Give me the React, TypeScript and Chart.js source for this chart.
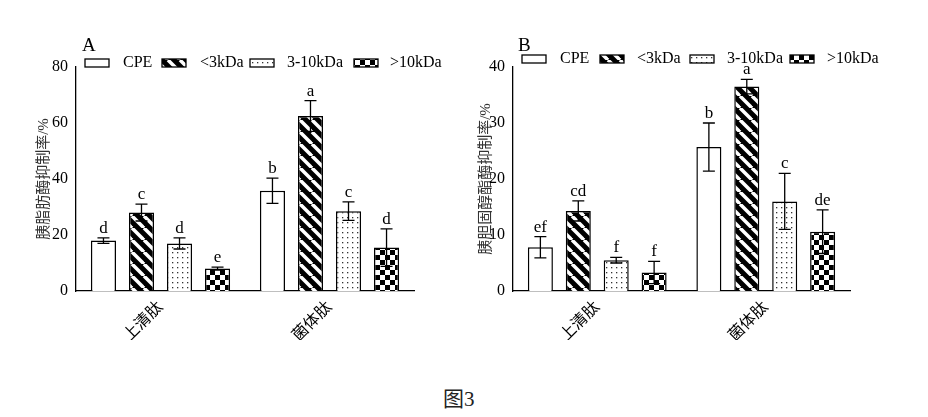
import React, { useEffect, useRef } from "react";
import { Chart, registerables } from "chart.js";
Chart.register(...registerables);

const categories = ["上清肽", "菌体肽"];
const seriesNames = ["CPE", "<3kDa", "3-10kDa", ">10kDa"];
const aValues = [[18, 35.8], [28, 62.5], [17, 28.5], [8, 15.5]];
const aErrors = [[1, 4.5], [3, 5.5], [2, 3.3], [0.5, 6.7]];
const aLetters = [["d", "b"], ["c", "a"], ["d", "c"], ["e", "d"]];
const bValues = [[7.8, 25.7], [14.3, 36.5], [5.5, 16], [3.3, 10.6]];
const bErrors = [[1.9, 4.3], [1.8, 1.3], [0.5, 5], [2, 3.9]];
const bLetters = [["ef", "b"], ["cd", "a"], ["f", "c"], ["f", "de"]];

const FONT = "'Liberation Serif', 'Times New Roman', 'Noto Sans CJK SC', serif";

function makePattern(kind: number): CanvasPattern | string {
  const c = document.createElement("canvas");
  const ctx = c.getContext("2d")!;
  if (kind === 0) return "#ffffff";
  if (kind === 1) {
    c.width = 12; c.height = 12;
    ctx.fillStyle = "#000"; ctx.fillRect(0, 0, 12, 12);
    ctx.strokeStyle = "#fff"; ctx.lineWidth = 3.5;
    for (let k = -12; k <= 24; k += 12) {
      ctx.beginPath(); ctx.moveTo(k, 0); ctx.lineTo(k + 12, 12); ctx.stroke();
    }
  } else if (kind === 2) {
    c.width = 5; c.height = 5;
    ctx.fillStyle = "#fff"; ctx.fillRect(0, 0, 5, 5);
    ctx.fillStyle = "#333"; ctx.fillRect(2, 2, 1.3, 1.3);
  } else {
    c.width = 10; c.height = 10;
    ctx.fillStyle = "#fff"; ctx.fillRect(0, 0, 10, 10);
    ctx.fillStyle = "#000"; ctx.fillRect(0, 0, 5, 5); ctx.fillRect(5, 5, 5, 5);
  }
  return ctx.createPattern(c, "repeat")!;
}

type PanelProps = {
  values: number[][]; errors: number[][]; letters: string[][];
  max: number; step: number; title: string; panel: string;
  leftPad: number; yWidth: number; rightPad: number; legendX: number[][]; legendY: number; panelX: number;
};

function Panel(p: PanelProps) {
  const ref = useRef<HTMLCanvasElement>(null);
  useEffect(() => {
    const patterns = [0, 1, 2, 3].map(makePattern);
    const overlay = {
      id: "overlay",
      afterDatasetsDraw(chart: any) {
        const ctx = chart.ctx;
        const y = chart.scales.y;
        ctx.save();
        p.values.forEach((vals, di) => {
          const meta = chart.getDatasetMeta(di);
          vals.forEach((v, i) => {
            const x = meta.data[i].x;
            const top = y.getPixelForValue(v + p.errors[di][i]);
            const bot = y.getPixelForValue(v - p.errors[di][i]);
            ctx.strokeStyle = "#000"; ctx.lineWidth = 1.3;
            ctx.beginPath();
            ctx.moveTo(x, top); ctx.lineTo(x, bot);
            ctx.moveTo(x - 6, top); ctx.lineTo(x + 6, top);
            ctx.moveTo(x - 6, bot); ctx.lineTo(x + 6, bot);
            ctx.stroke();
            ctx.fillStyle = "#000"; ctx.font = `17px ${FONT}`;
            ctx.textAlign = "center"; ctx.textBaseline = "bottom";
            ctx.fillText(p.letters[di][i], x, top - 1);
          });
        });
        ctx.font = `16px ${FONT}`; ctx.textBaseline = "middle"; ctx.textAlign = "left";
        seriesNames.forEach((n, i) => {
          const [bx, tx] = p.legendX[i];
          ctx.fillStyle = patterns[i] as any;
          ctx.fillRect(bx, p.legendY - 4, 24, 8);
          ctx.strokeStyle = "#000"; ctx.lineWidth = 1.3;
          ctx.strokeRect(bx, p.legendY - 4, 24, 8);
          ctx.fillStyle = "#000";
          ctx.fillText(n, tx, p.legendY);
        });
        ctx.font = `19px ${FONT}`;
        ctx.fillText(p.panel, p.panelX, 46);
        ctx.restore();
      },
    };
    const chart = new Chart(ref.current!, {
      type: "bar",
      data: {
        labels: categories,
        datasets: seriesNames.map((n, i) => ({
          label: n, data: p.values[i], backgroundColor: patterns[i] as any,
          borderColor: "#000", borderWidth: 1.5,
          categoryPercentage: 0.9, barPercentage: 0.66,
        })),
      },
      options: {
        animation: false, responsive: false,
        layout: { padding: { top: 67, right: p.rightPad, left: p.leftPad, bottom: 0 } },
        plugins: { legend: { display: false }, tooltip: { enabled: false } },
        scales: {
          x: {
            grid: { display: false, drawTicks: true, tickLength: 4 },
            border: { color: "#000", width: 1.3 },
            ticks: { color: "#000", font: { family: FONT, size: 16 }, maxRotation: 45, minRotation: 45 },
            afterFit: (s: any) => { s.height = 49; },
          },
          y: {
            min: 0, max: p.max,
            grid: { display: false, tickLength: 5 },
            border: { color: "#000", width: 1.3 },
            ticks: { stepSize: p.step, color: "#000", font: { family: FONT, size: 16 } },
            title: { display: true, text: p.title, color: "#333", font: { family: FONT, size: 15 }, padding: 0 },
            afterFit: (s: any) => { s.width = p.yWidth; },
          },
        },
      },
      plugins: [overlay],
    });
    return () => chart.destroy();
  }, []);
  return <canvas ref={ref} width={464} height={340} style={{ display: "block" }} />;
}

export default function App() {
  return (
    <div style={{ position: "absolute", left: 0, top: 0, width: 928, height: 417, background: "#fff" }}>
      <div style={{ position: "absolute", left: 0, top: 0 }}>
        <Panel values={aValues} errors={aErrors} letters={aLetters} max={80} step={20}
          title="胰脂肪酶抑制率/%" panel="A" leftPad={35} yWidth={41} rightPad={50}
          legendX={[[85, 123], [162, 200], [250, 287], [354, 390]]} legendY={63} panelX={82} />
      </div>
      <div style={{ position: "absolute", left: 464, top: 0 }}>
        <Panel values={bValues} errors={bErrors} letters={bLetters} max={40} step={10}
          title="胰胆固醇酯酶抑制率/%" panel="B" leftPad={13} yWidth={36} rightPad={78}
          legendX={[[58, 96], [136, 173], [226, 263], [326, 363]]} legendY={59} panelX={54} />
      </div>
      <div style={{ position: "absolute", left: 0, width: 928, top: 382, fontFamily: FONT, fontSize: 21, color: "#222" }}>
        <span style={{ position: "absolute", left: 443 }}>图3</span>
      </div>
    </div>
  );
}
